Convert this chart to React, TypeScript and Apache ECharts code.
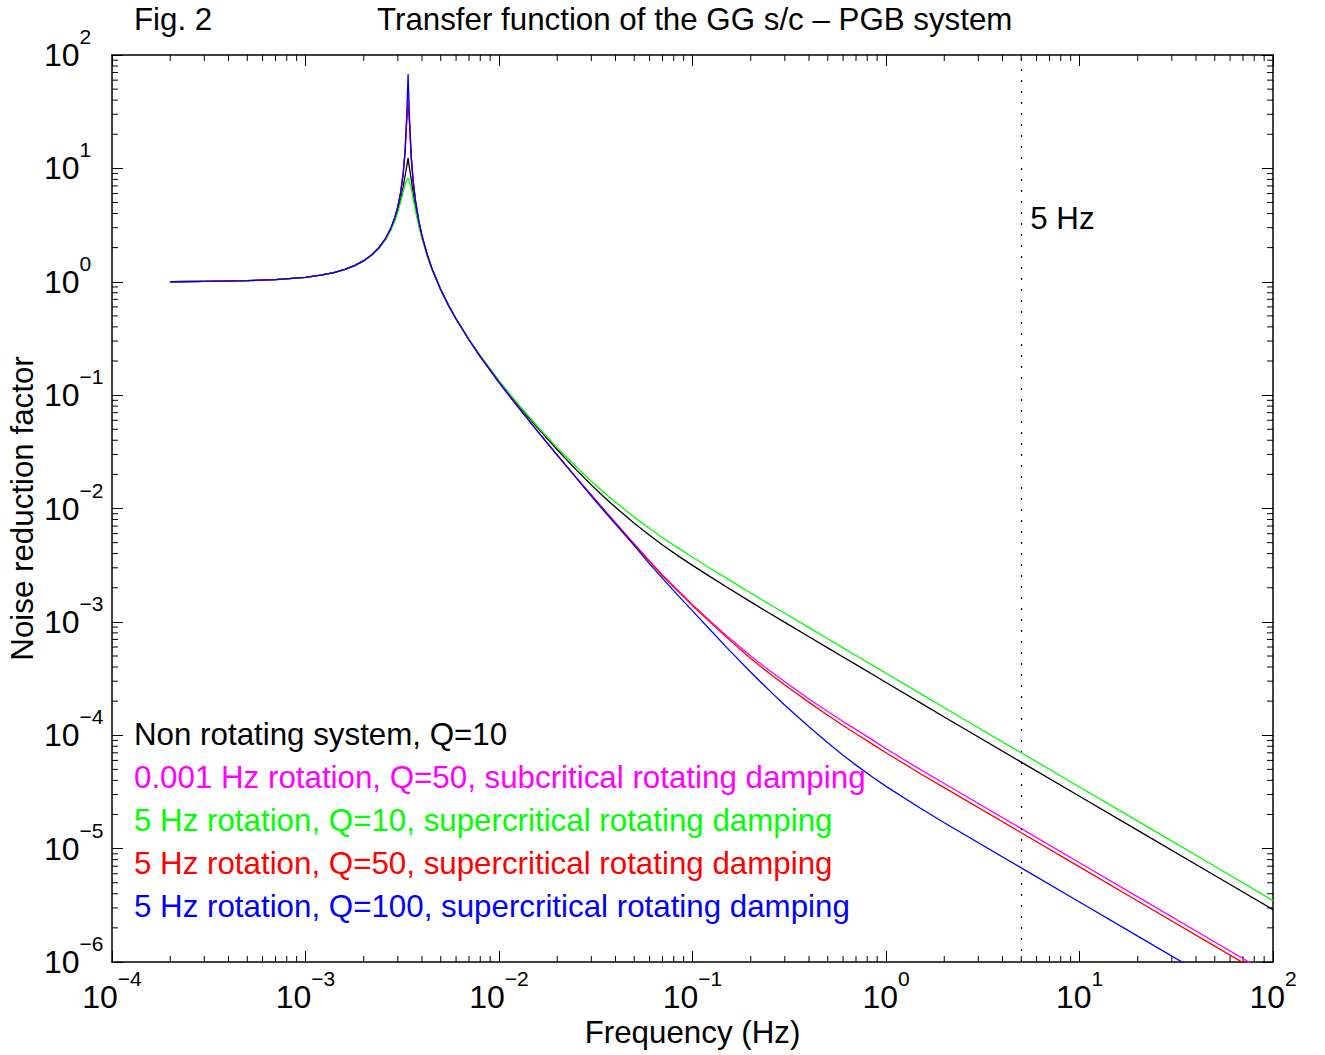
import React, { useEffect, useRef } from "react";
import * as echarts from "echarts";

// ---------- data ----------
const FREQ = [
  2e-4, 3e-4, 5e-4, 7e-4, 1e-3, 1.2e-3, 1.4e-3, 1.6e-3, 1.8e-3, 2.0e-3, 2.2e-3, 2.4e-3, 2.6e-3, 2.75e-3, 2.9e-3,
  3.0e-3, 3.1e-3, 3.2e-3, 3.27e-3, 3.33e-3, 3.39e-3, 3.45e-3, 3.52e-3, 3.6e-3, 3.7e-3, 3.85e-3, 4.0e-3, 4.25e-3, 4.5e-3,
  5e-3, 5.5e-3, 6e-3, 7e-3, 8e-3, 1e-2, 1.15e-2, 1.3e-2, 1.6e-2, 2e-2, 2.5e-2, 3e-2, 3.5e-2, 4e-2, 5e-2, 6e-2, 7e-2,
  8.5e-2, 0.1, 0.125, 0.15, 0.2, 0.25, 0.3, 0.4, 0.5, 0.6, 0.7, 0.85, 1, 1.5, 2, 5, 10, 20, 50, 100,
];

// Non rotating system, Q=10 (black)
const NON_ROTATING_Q10 = [
  1.0, 1.008, 1.022, 1.045, 1.094, 1.142, 1.204, 1.284, 1.389, 1.53, 1.72, 1.99, 2.394, 2.855, 3.565,
  4.29, 5.36, 6.97, 8.6, 10.2, 12.3, 9.9, 8.0, 6.1, 4.57, 3.23, 2.46, 1.722, 1.30,
  0.853, 0.615, 0.4715, 0.3092, 0.2219, 0.133, 0.0985, 0.0762, 0.0504, 0.033, 0.02203, 0.01615, 0.01258, 0.01025, 0.00741, 0.0058, 0.00476,
  3.78e-3, 3.15e-3, 2.47e-3, 2.03e-3, 1.5e-3, 1.19e-3, 9.9e-4, 7.4e-4, 5.9e-4, 4.9e-4, 4.2e-4, 3.45e-4, 2.92e-4, 1.94e-4, 1.45e-4, 5.8e-5, 2.9e-5, 1.45e-5, 5.8e-6, 2.9e-6,
];

// 0.001 Hz rotation, Q=50, subcritical rotating damping (magenta)
const SUBCRIT_Q50 = [
  1.0, 1.008, 1.022, 1.045, 1.095, 1.143, 1.206, 1.287, 1.393, 1.534, 1.728, 2.005, 2.428, 2.925, 3.728,
  4.60, 6.08, 9.08, 14.0, 25.5, 44, 25.0, 12.45, 7.75, 5.21, 3.44, 2.545, 1.748, 1.311,
  0.851, 0.613, 0.469, 0.3064, 0.2189, 0.1298, 0.0952, 0.0729, 0.047, 0.0296, 0.0188, 0.01318, 0.00971, 0.00748, 0.00486, 0.00344, 0.00258,
  1.86e-3, 1.42e-3, 1.0e-3, 7.55e-4, 5.0e-4, 3.72e-4, 2.96e-4, 2.09e-4, 1.62e-4, 1.32e-4, 1.12e-4, 9.1e-5, 7.6e-5, 5.0e-5, 3.75e-5, 1.5e-5, 7.5e-6, 3.75e-6, 1.5e-6, 7.5e-7,
];

// 5 Hz rotation, Q=10, supercritical rotating damping (green)
const SUPERCRIT_Q10 = [
  1.0, 1.008, 1.022, 1.045, 1.094, 1.142, 1.203, 1.283, 1.387, 1.525, 1.715, 1.974, 2.365, 2.80, 3.46,
  4.11, 5.01, 6.23, 7.2, 7.85, 8.2, 7.6, 6.6, 5.43, 4.26, 3.10, 2.386, 1.69, 1.28,
  0.854, 0.616, 0.4726, 0.3105, 0.2232, 0.1344, 0.0999, 0.0777, 0.0518, 0.0344, 0.02338, 0.01743, 0.01377, 0.01136, 0.00839, 0.00665, 0.00552,
  4.45e-3, 3.72e-3, 2.93e-3, 2.42e-3, 1.8e-3, 1.43e-3, 1.19e-3, 8.9e-4, 7.1e-4, 5.9e-4, 5.05e-4, 4.15e-4, 3.52e-4, 2.34e-4, 1.75e-4, 7.0e-5, 3.5e-5, 1.75e-5, 7.0e-6, 3.48e-6,
];

// 5 Hz rotation, Q=50, supercritical rotating damping (red)
const SUPERCRIT_Q50 = [
  1.0, 1.008, 1.022, 1.045, 1.095, 1.143, 1.206, 1.287, 1.393, 1.534, 1.728, 2.005, 2.428, 2.925, 3.728,
  4.60, 6.07, 9.05, 13.9, 24.9, 36, 24.3, 12.37, 7.72, 5.20, 3.44, 2.54, 1.747, 1.311,
  0.851, 0.613, 0.469, 0.3064, 0.2189, 0.1298, 0.0952, 0.0729, 0.047, 0.0296, 0.0188, 0.01314, 0.00967, 0.00744, 0.00482, 0.0034, 0.002548,
  1.83e-3, 1.39e-3, 9.75e-4, 7.3e-4, 4.75e-4, 3.5e-4, 2.77e-4, 1.95e-4, 1.5e-4, 1.22e-4, 1.03e-4, 8.35e-5, 7.0e-5, 4.6e-5, 3.45e-5, 1.38e-5, 6.9e-6, 3.45e-6, 1.38e-6, 6.9e-7,
];

// 5 Hz rotation, Q=100, supercritical rotating damping (blue)
const SUPERCRIT_Q100 = [
  1.0, 1.008, 1.022, 1.045, 1.095, 1.143, 1.206, 1.287, 1.393, 1.534, 1.728, 2.005, 2.428, 2.925, 3.728,
  4.61, 6.10, 9.15, 14.25, 27.4, 68, 26.9, 12.7, 7.82, 5.22, 3.45, 2.55, 1.749, 1.312,
  0.851, 0.613, 0.469, 0.3064, 0.2189, 0.1298, 0.0952, 0.0729, 0.047, 0.0296, 0.01873, 0.0129, 0.00945, 0.0073, 0.0047, 0.00325, 0.00242,
  1.68e-3, 1.25e-3, 8.3e-4, 5.96e-4, 3.6e-4, 2.475e-4, 1.842e-4, 1.186e-4, 8.58e-5, 6.67e-5, 5.45e-5, 4.28e-5, 3.54e-5, 2.28e-5, 1.693e-5, 6.77e-6, 3.385e-6, 1.69e-6, 6.77e-7, 3.385e-7,
];

const SERIES_NAMES = [
  "Non rotating system, Q=10",
  "0.001 Hz rotation, Q=50, subcritical rotating damping",
  "5 Hz rotation, Q=10, supercritical rotating damping",
  "5 Hz rotation, Q=50, supercritical rotating damping",
  "5 Hz rotation, Q=100, supercritical rotating damping",
];
const SERIES_VALUES = [NON_ROTATING_Q10, SUBCRIT_Q50, SUPERCRIT_Q10, SUPERCRIT_Q50, SUPERCRIT_Q100];
const SERIES_COLORS = ["#000000", "#ff00ff", "#00ff00", "#ff0000", "#0000ff"];

// axes
const X_MIN = 1e-4;
const X_MAX = 100;
const Y_MIN = 1e-6;
const Y_MAX = 100;
const X_DECADES = [1e-4, 1e-3, 1e-2, 1e-1, 1, 10];
const Y_DECADES = [1e-6, 1e-5, 1e-4, 1e-3, 1e-2, 1e-1, 1, 10];
const MINOR_MULT = [2, 3, 4, 5, 6, 7, 8, 9];

// annotation
const MARK_FREQ = 5;
const MARK_LABEL_Y = 3.65;
const MARK_LABEL = "5 Hz";

const TITLE_LEFT = "Fig. 2";
const TITLE_MAIN = "Transfer function of the GG s/c \u2013 PGB system";
const X_NAME = "Frequency (Hz)";
const Y_NAME = "Noise reduction factor";

const FONT = "'Liberation Sans', Arial, Helvetica, sans-serif";
const FS = 31.3;

function powLabel(v: number) {
  const e = Math.round(Math.log10(v));
  const s = e < 0 ? "\u2212" + -e : String(e);
  return `{b|10}{s|${s}}`;
}

const RICH = {
  b: { fontSize: 32, lineHeight: 58, verticalAlign: "middle", color: "#000", fontFamily: FONT },
  s: { fontSize: 21, lineHeight: 21, verticalAlign: "top", color: "#000", fontFamily: FONT },
};

export default function App() {
  const ref = useRef<HTMLDivElement>(null);

  useEffect(() => {
    if (!ref.current) return;
    const chart = echarts.init(ref.current, undefined, { renderer: "svg" });

    const minorData: number[][] = [];
    X_DECADES.forEach((d) => MINOR_MULT.forEach((m) => minorData.push([d * m, 1, 0])));
    Y_DECADES.forEach((d) => MINOR_MULT.forEach((m) => minorData.push([1, d * m, 1])));

    const axisLine = { show: true, lineStyle: { color: "#000", width: 1.5 } };
    const axisTick = { show: true, inside: true, length: 11, lineStyle: { color: "#000", width: 1 } };

    const lineSeries = SERIES_NAMES.map((name, i) => {
      const s: any = {
        name,
        type: "line",
        data: FREQ.map((f, k) => [f, SERIES_VALUES[i][k]]),
        showSymbol: false,
        symbol: "none",
        smooth: false,
        clip: true,
        lineStyle: { color: SERIES_COLORS[i], width: 1.3 },
        itemStyle: { color: SERIES_COLORS[i] },
        z: 3 + i,
      };
      if (i === 0) {
        s.markLine = {
          silent: true,
          symbol: "none",
          label: { show: false },
          lineStyle: { color: "#000", width: 1.2, type: [2, 9] },
          data: [{ xAxis: MARK_FREQ }],
        };
        s.markPoint = {
          silent: true,
          symbol: "circle",
          symbolSize: 0,
          itemStyle: { color: "rgba(0,0,0,0)" },
          label: {
            show: true,
            position: "right",
            distance: 9,
            formatter: MARK_LABEL,
            color: "#000",
            fontSize: FS,
            fontFamily: FONT,
          },
          data: [{ coord: [MARK_FREQ, MARK_LABEL_Y] }],
        };
      }
      return s;
    });

    const titleStyle = { fontSize: FS, fontWeight: "normal", color: "#000", fontFamily: FONT };

    const option: any = {
      animation: false,
      backgroundColor: "#ffffff",
      textStyle: { fontFamily: FONT },
      title: [
        { text: TITLE_LEFT, left: 134, top: 4, padding: 0, textStyle: titleStyle },
        { text: TITLE_MAIN, left: 377, top: 4, padding: 0, textStyle: titleStyle },
      ],
      legend: {
        orient: "vertical",
        left: 129,
        top: 719,
        padding: 0,
        itemGap: 12,
        itemWidth: 0,
        itemHeight: 31,
        icon: "none",
        selectedMode: false,
        textStyle: { fontSize: FS, lineHeight: 31, fontFamily: FONT },
        data: SERIES_NAMES.map((n, i) => ({ name: n, textStyle: { color: SERIES_COLORS[i] } })),
      },
      grid: { left: 112, right: 52, top: 55, bottom: 93, containLabel: false, outerBoundsMode: "none" },
      xAxis: [
        {
          type: "log",
          logBase: 10,
          min: X_MIN,
          max: X_MAX,
          splitNumber: 6,
          position: "bottom",
          axisLine,
          axisTick,
          splitLine: { show: false },
          axisLabel: { show: true, margin: 6, formatter: powLabel, rich: RICH, hideOverlap: false, showMinLabel: true, showMaxLabel: true },
          name: X_NAME,
          nameLocation: "middle",
          nameGap: 55,
          nameMoveOverlap: false,
          nameTextStyle: { fontSize: FS, color: "#000", fontFamily: FONT },
        },
        {
          type: "log",
          logBase: 10,
          min: X_MIN,
          max: X_MAX,
          splitNumber: 6,
          position: "top",
          axisLine,
          axisTick,
          splitLine: { show: false },
          axisLabel: { show: false },
        },
      ],
      yAxis: [
        {
          type: "log",
          logBase: 10,
          min: Y_MIN,
          max: Y_MAX,
          splitNumber: 8,
          position: "left",
          axisLine,
          axisTick,
          splitLine: { show: false },
          axisLabel: { show: true, margin: 68, align: "left", formatter: powLabel, rich: RICH, hideOverlap: false, showMinLabel: true, showMaxLabel: true },
          name: Y_NAME,
          nameLocation: "middle",
          nameGap: 74,
          nameMoveOverlap: false,
          nameTextStyle: { fontSize: FS, color: "#000", fontFamily: FONT },
        },
        {
          type: "log",
          logBase: 10,
          min: Y_MIN,
          max: Y_MAX,
          splitNumber: 8,
          position: "right",
          axisLine,
          axisTick,
          splitLine: { show: false },
          axisLabel: { show: false },
        },
      ],
      series: [
        {
          type: "custom",
          name: "minorTicks",
          coordinateSystem: "cartesian2d",
          xAxisIndex: 0,
          yAxisIndex: 0,
          silent: true,
          z: 2,
          data: minorData,
          renderItem: (params: any, api: any) => {
            const cs = params.coordSys;
            const L = 6;
            const kind = api.value(2);
            const style = { stroke: "#000", lineWidth: 1 };
            if (kind === 0) {
              const x = api.coord([api.value(0), 1])[0];
              const yb = cs.y + cs.height;
              return {
                type: "group",
                children: [
                  { type: "line", shape: { x1: x, y1: yb, x2: x, y2: yb - L }, style },
                  { type: "line", shape: { x1: x, y1: cs.y, x2: x, y2: cs.y + L }, style },
                ],
              };
            }
            const y = api.coord([1, api.value(1)])[1];
            const xr = cs.x + cs.width;
            return {
              type: "group",
              children: [
                { type: "line", shape: { x1: cs.x, y1: y, x2: cs.x + L, y2: y }, style },
                { type: "line", shape: { x1: xr, y1: y, x2: xr - L, y2: y }, style },
              ],
            };
          },
        },
        ...lineSeries,
      ],
    };

    chart.setOption(option);
    return () => chart.dispose();
  }, []);

  return (
    <div
      ref={ref}
      style={{ position: "fixed", left: 0, top: 0, width: 1325, height: 1055, background: "#fff" }}
    />
  );
}
